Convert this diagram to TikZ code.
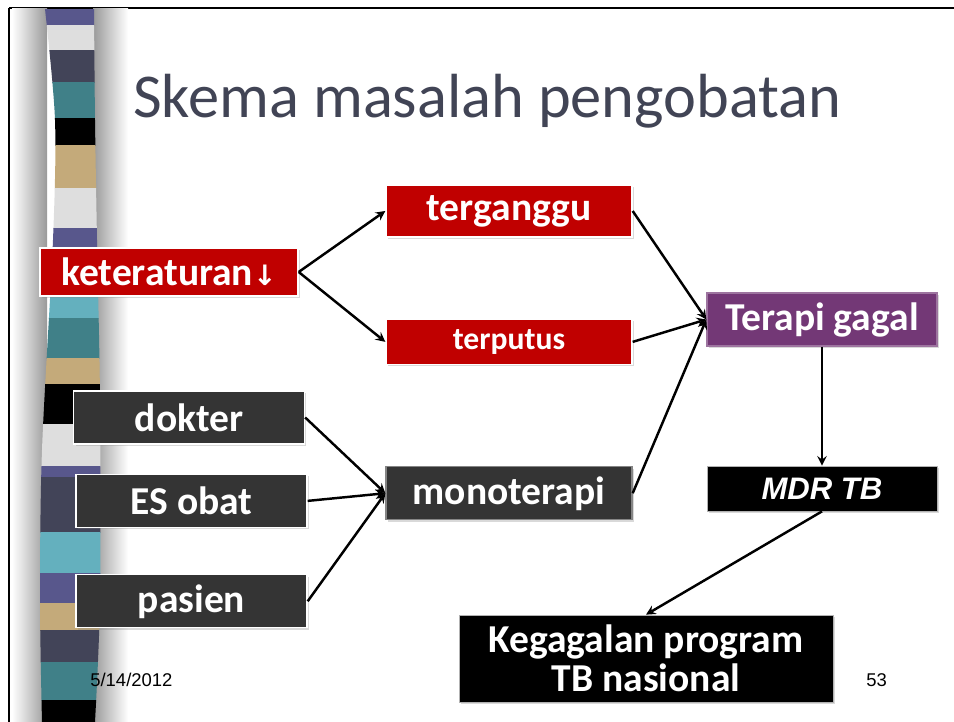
\documentclass[tikz,border=0pt]{standalone}
\usepackage{fontspec}
\setmainfont{Carlito}
\newfontfamily\arialfont{Liberation Sans}
\newfontfamily\arrowfont{DejaVu Sans}
\usepackage{xcolor}
\usepackage{tikz}
\usetikzlibrary{arrows,positioning,shadows}

\definecolor{boxred}{RGB}{192,0,0}
\definecolor{boxpurple}{RGB}{115,56,118}
\definecolor{boxgray}{RGB}{52,52,52}
\definecolor{titleslate}{RGB}{65,68,85}
\definecolor{stripepurple}{RGB}{88,87,140}
\definecolor{stripegray}{RGB}{222,222,222}
\definecolor{stripedark}{RGB}{66,68,88}
\definecolor{stripeteal}{RGB}{64,128,136}
\definecolor{stripetan}{RGB}{196,170,122}
\definecolor{stripecyan}{RGB}{100,176,190}

\begin{document}
\begin{tikzpicture}[
    x=0.02cm, y=-0.02cm,
    box/.style={rectangle, text=white, inner sep=0pt, text centered, line width=0.8pt,
        drop shadow={shadow xshift=0.04cm, shadow yshift=-0.04cm, opacity=0.3},
        font=\bfseries\fontsize{22.5}{22}\selectfont},
    cause/.style={box, fill=boxred, draw=white, minimum width=4.92cm, minimum height=1.04cm},
    factor/.style={box, fill=boxgray, draw=white, minimum width=4.62cm, minimum height=1.06cm},
    result/.style={box, fill=boxpurple, draw=boxpurple!70, minimum width=4.60cm, minimum height=1.06cm},
    final/.style={box, fill=black, draw=gray!60, line width=0.4pt},
    arrow/.style={->, >=stealth, line width=1.4pt}
]
    \useasboundingbox (0,0) rectangle (954,722);

    % Slide frame and striped side bar
    \draw[line width=0.05cm] (9,8) -- (954,8);
    \draw[line width=0.05cm] (9,8) -- (9,722);
    \shade[left color=white, right color=gray!80] (12,9) rectangle (47,722);
    \shade[left color=gray!80, right color=white] (93,9) rectangle (128,722);
    \begin{scope}
        \clip plot[smooth] coordinates {(45,9) (55,120) (53,240) (42,450) (40,600) (42,722)}
            -- plot[smooth] coordinates {(95,722) (100,600) (100,400) (97,240) (95,120) (94,9)} -- cycle;
        \foreach \ya/\yb/\c in {9/25/stripepurple, 25/50/stripegray, 50/82/stripedark,
            82/118/stripeteal, 118/145/black, 145/188/stripetan, 188/228/stripegray,
            228/250/stripepurple, 250/318/stripecyan, 318/358/stripeteal, 358/384/stripetan,
            384/424/black, 424/466/stripegray, 466/477/stripepurple, 477/532/stripedark,
            532/573/stripecyan, 573/603/stripepurple, 603/630/stripetan, 630/662/stripedark,
            662/700/stripeteal, 700/722/black}
            \fill[\c] (30,\ya) rectangle (110,\yb+0.6);
    \end{scope}

    % Title
    \node[anchor=base west, inner sep=0pt, text=titleslate, font=\fontsize{35.5}{40}\selectfont] (title) at (133,118) {Skema masalah pengobatan};

    % Causes
    \node[cause, minimum width=5.16cm, minimum height=0.96cm] (keter) at (169,272) {keteraturan{\arrowfont\bfseries\fontsize{16}{16}\selectfont ↓}};
    \node[cause] (tergg) at (509,211) {terganggu};
    \node[cause, minimum height=0.90cm, below=1.62cm of tergg, font=\bfseries\fontsize{18}{18}\selectfont] (terput) {terputus};
    \node[cause, fill=boxgray, draw=boxgray!60, minimum height=1.06cm, below=2.02cm of terput] (mono) {monoterapi};

    % Factors
    \node[factor] (dokter) at (189,417.5) {dokter};
    \node[factor, below=0.58cm of dokter, xshift=0.05cm] (esobat) {ES obat};
    \node[factor, below=0.92cm of esobat] (pasien) {pasien};

    % Outcomes
    \node[result] (gagal) at (822,319.5) {Terapi gagal};
    \node[final, minimum width=4.60cm, minimum height=0.90cm, below=2.38cm of gagal,
        font=\arialfont\bfseries\itshape\fontsize{17.7}{18}\selectfont] (mdr) {MDR TB};
    \node[final, minimum width=7.48cm, minimum height=1.74cm, align=center] (program) at (646,658.5) {Kegagalan program\\TB nasional};

    % Footer
    \node[anchor=west, inner sep=0pt, font=\arialfont\fontsize{10.5}{12}\selectfont] (date) at (90,680) {5/14/2012};
    \node[anchor=west, inner sep=0pt, font=\arialfont\fontsize{10.5}{12}\selectfont] (page) at (866,680) {53};

    % Arrows
    \draw[arrow] (keter.east) -- (tergg.west);
    \draw[arrow] (keter.east) -- (terput.west);
    \draw[arrow] (tergg.east) -- (gagal.west);
    \draw[arrow] (terput.east) -- (gagal.west);
    \draw[arrow] (mono.east) -- (gagal.west);
    \draw[arrow] (dokter.east) -- (mono.west);
    \draw[arrow] (esobat.east) -- (mono.west);
    \draw[arrow] (pasien.east) -- (mono.west);
    \draw[arrow] (gagal.south) -- (mdr.north);
    \draw[arrow] (mdr.south) -- (program.north);
\end{tikzpicture}
\end{document}
